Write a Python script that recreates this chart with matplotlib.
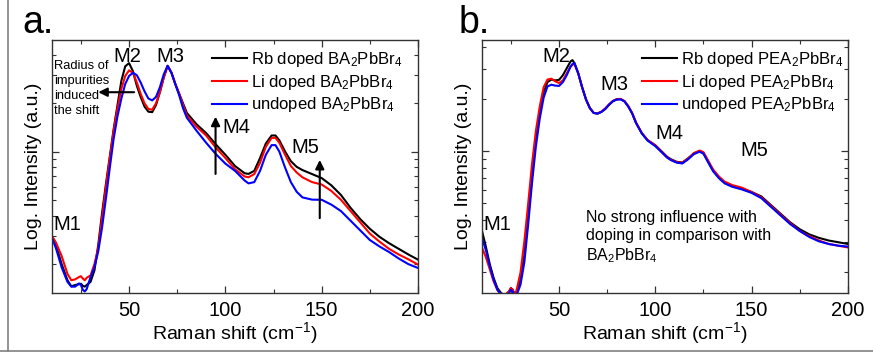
import numpy as np
import matplotlib
matplotlib.use("Agg")
import matplotlib.pyplot as plt
from matplotlib.ticker import MultipleLocator, NullFormatter, LogLocator
from matplotlib.lines import Line2D

plt.rcParams['font.family'] = ['Liberation Sans', 'DejaVu Sans']
plt.rcParams['mathtext.default'] = 'regular'

# ---- data (log10 of intensity, arbitrary units) ----
# panel a: BA2PbBr4
x_a = [10, 12, 15, 18, 20, 22, 24, 25, 26, 27,
       28, 30, 32, 34, 36, 38, 40, 42, 44, 46,
       48, 50, 52, 54, 56, 58, 60, 62, 64, 66,
       68, 70, 72, 74, 76, 78, 80, 85, 90, 95,
       100, 105, 110, 112, 115, 118, 121, 124, 126, 128,
       131, 134, 137, 140, 145, 150, 155, 160, 165, 170,
       175, 180, 185, 190, 195, 200]
rb_a = [-0.527, -0.58, -0.70, -0.80, -0.838, -0.83, -0.825, -0.822, -0.835, -0.84,
        -0.83, -0.81, -0.74, -0.58, -0.38, -0.20, -0.03, 0.14, 0.29, 0.44,
        0.53, 0.55, 0.50, 0.41, 0.34, 0.28, 0.248, 0.245, 0.29, 0.37,
        0.46, 0.533, 0.49, 0.42, 0.36, 0.30, 0.24, 0.17, 0.115, 0.045,
        -0.02, -0.09, -0.135, -0.139, -0.12, -0.04, 0.05, 0.10, 0.10, 0.07,
        0.00, -0.06, -0.095, -0.115, -0.14, -0.165, -0.21, -0.27, -0.35, -0.42,
        -0.48, -0.53, -0.57, -0.605, -0.64, -0.672]
li_a = [-0.527, -0.565, -0.65, -0.76, -0.80, -0.795, -0.78, -0.775, -0.79, -0.80,
        -0.785, -0.77, -0.70, -0.60, -0.41, -0.22, -0.04, 0.13, 0.27, 0.39,
        0.47, 0.505, 0.49, 0.43, 0.36, 0.30, 0.265, 0.26, 0.30, 0.37,
        0.46, 0.533, 0.49, 0.42, 0.36, 0.29, 0.225, 0.155, 0.10, 0.025,
        -0.04, -0.11, -0.155, -0.16, -0.14, -0.07, 0.03, 0.085, 0.085, 0.055,
        -0.02, -0.09, -0.13, -0.16, -0.19, -0.205, -0.245, -0.30, -0.37, -0.44,
        -0.51, -0.56, -0.605, -0.64, -0.67, -0.703]
un_a = [-0.537, -0.60, -0.72, -0.81, -0.84, -0.84, -0.82, -0.83, -0.86, -0.87,
        -0.855, -0.78, -0.72, -0.62, -0.47, -0.29, -0.10, 0.08, 0.22, 0.33,
        0.42, 0.47, 0.49, 0.475, 0.43, 0.375, 0.33, 0.318, 0.34, 0.40,
        0.48, 0.533, 0.49, 0.42, 0.35, 0.27, 0.21, 0.13, 0.055, -0.015,
        -0.075, -0.12, -0.18, -0.198, -0.19, -0.12, -0.02, 0.04, 0.04, 0.0,
        -0.10, -0.19, -0.25, -0.285, -0.299, -0.30, -0.33, -0.37, -0.43, -0.49,
        -0.55, -0.59, -0.625, -0.665, -0.70, -0.724]

# panel b: PEA2PbBr4
x_b = [10, 12, 14, 16, 18, 20, 22, 24, 25, 26,
       27, 28, 30, 32, 34, 36, 38, 40, 42, 44,
       46, 48, 50, 52, 54, 56, 57, 58, 60, 62,
       64, 66, 68, 70, 72, 74, 76, 78, 80, 82,
       84, 86, 88, 90, 93, 96, 100, 103, 106, 108,
       111, 114, 117, 120, 123, 125, 127, 130, 133, 136,
       140, 145, 150, 155, 160, 165, 170, 175, 180, 185,
       190, 195, 200]
rb_b = [-0.46, -0.55, -0.65, -0.73, -0.79, -0.82, -0.83, -0.81, -0.79, -0.80,
        -0.83, -0.82, -0.74, -0.60, -0.38, -0.14, 0.07, 0.22, 0.34, 0.40,
        0.415, 0.41, 0.413, 0.44, 0.48, 0.52, 0.527, 0.51, 0.45, 0.37,
        0.30, 0.25, 0.222, 0.218, 0.228, 0.245, 0.27, 0.29, 0.30, 0.302,
        0.29, 0.26, 0.22, 0.165, 0.105, 0.065, 0.035, 0.003, -0.03, -0.045,
        -0.06, -0.065, -0.04, -0.012, 0.002, -0.01, -0.05, -0.11, -0.15, -0.18,
        -0.20, -0.215, -0.235, -0.26, -0.31, -0.36, -0.41, -0.45, -0.48, -0.50,
        -0.515, -0.525, -0.535]
li_b = [-0.556, -0.61, -0.68, -0.75, -0.80, -0.83, -0.83, -0.81, -0.79, -0.80,
        -0.83, -0.80, -0.70, -0.52, -0.30, -0.07, 0.12, 0.26, 0.37, 0.415,
        0.42, 0.405, 0.395, 0.41, 0.45, 0.49, 0.50, 0.505, 0.45, 0.37,
        0.30, 0.25, 0.222, 0.22, 0.23, 0.248, 0.272, 0.292, 0.302, 0.303,
        0.29, 0.26, 0.22, 0.165, 0.105, 0.065, 0.035, 0.0, -0.033, -0.048,
        -0.062, -0.066, -0.042, -0.01, 0.005, -0.005, -0.045, -0.105, -0.145, -0.175,
        -0.195, -0.21, -0.235, -0.265, -0.315, -0.365, -0.415, -0.46, -0.49, -0.515,
        -0.535, -0.545, -0.555]
un_b = [-0.50, -0.57, -0.66, -0.74, -0.80, -0.83, -0.835, -0.82, -0.80, -0.81,
        -0.84, -0.83, -0.77, -0.64, -0.42, -0.18, 0.03, 0.19, 0.31, 0.375,
        0.385, 0.38, 0.378, 0.40, 0.44, 0.49, 0.505, 0.51, 0.45, 0.37,
        0.30, 0.25, 0.222, 0.218, 0.228, 0.245, 0.27, 0.29, 0.30, 0.30,
        0.288, 0.258, 0.218, 0.163, 0.103, 0.062, 0.03, -0.002, -0.035, -0.05,
        -0.065, -0.07, -0.046, -0.016, -0.002, -0.014, -0.055, -0.115, -0.155, -0.185,
        -0.205, -0.22, -0.24, -0.27, -0.32, -0.37, -0.42, -0.46, -0.495, -0.52,
        -0.535, -0.545, -0.55]

labels_a = ['Rb doped BA$_2$PbBr$_4$', 'Li doped BA$_2$PbBr$_4$', 'undoped BA$_2$PbBr$_4$']
labels_b = ['Rb doped PEA$_2$PbBr$_4$', 'Li doped PEA$_2$PbBr$_4$', 'undoped PEA$_2$PbBr$_4$']
colors = ['black', '#ff0000', '#0000ff']

fig = plt.figure(figsize=(8.73, 3.58), dpi=100)
ax_a = fig.add_axes([0.0596, 0.1816, 0.4192, 0.7067])
ax_b = fig.add_axes([0.5521, 0.1816, 0.4192, 0.7067])


def style_axis(ax, ylim):
    ax.set_yscale('log')
    ax.set_xlim(10, 200)
    ax.set_ylim(*ylim)
    ax.xaxis.set_major_locator(MultipleLocator(50))
    ax.xaxis.set_minor_locator(MultipleLocator(25))
    ax.yaxis.set_major_locator(LogLocator(base=10))
    ax.yaxis.set_minor_locator(LogLocator(base=10, subs=np.arange(2, 10)))
    ax.yaxis.set_major_formatter(NullFormatter())
    ax.yaxis.set_minor_formatter(NullFormatter())
    ax.tick_params(which='both', direction='in', top=True, right=True,
                   labelsize=14.5, pad=6, color='#333333')
    ax.tick_params(which='major', length=5, width=0.9)
    ax.tick_params(which='minor', length=3, width=0.8)
    for sp in ax.spines.values():
        sp.set_linewidth(1.0)
        sp.set_color('#333333')
    ax.set_xlabel('Raman shift (cm$^{-1}$)', fontsize=14, labelpad=0)
    ax.set_ylabel('Log. Intensity (a.u.)', fontsize=14, labelpad=1)


for ax, xs, series, labels in [(ax_a, x_a, [rb_a, li_a, un_a], labels_a),
                               (ax_b, x_b, [rb_b, li_b, un_b], labels_b)]:
    for vals, lab, c in zip(series, labels, colors):
        ax.plot(xs, 10 ** np.array(vals), color=c, lw=1.5, label=lab)

style_axis(ax_a, (0.132, 4.94))
style_axis(ax_b, (0.152, 4.4))

for ax in (ax_a, ax_b):
    ax.legend(loc='upper left', bbox_to_anchor=(0.437, 0.96), frameon=False,
              fontsize=12, handlelength=2.1, handletextpad=0.25,
              labelspacing=0.22, borderpad=0, borderaxespad=0)

# panel a annotations
mfs = 14.5
ax_a.text(10.5, 10 ** -0.487, 'M1', fontsize=mfs)
ax_a.text(42.1, 10 ** 0.555, 'M2', fontsize=mfs)
ax_a.text(64.4, 10 ** 0.555, 'M3', fontsize=mfs)
ax_a.text(98.4, 10 ** 0.114, 'M4', fontsize=mfs)
ax_a.text(134.3, 10 ** -0.01, 'M5', fontsize=mfs)
arrow = dict(arrowstyle='-|>', color='black', lw=1.5, mutation_scale=13, shrinkA=0, shrinkB=0)
ax_a.annotate('', xy=(94.9, 10 ** 0.217), xytext=(94.9, 10 ** -0.139), arrowprops=arrow)
ax_a.annotate('', xy=(149, 10 ** -0.052), xytext=(149, 10 ** -0.414), arrowprops=arrow)
ax_a.annotate('', xy=(34.0, 10 ** 0.369), xytext=(52.6, 10 ** 0.369), arrowprops=arrow)
ax_a.text(11.0, 10 ** 0.57, 'Radius of\nimpurities\ninduced\nthe shift', fontsize=9.3,
          va='top', linespacing=1.35)

# panel b annotations
ax_b.text(10.5, 10 ** -0.452, 'M1', fontsize=mfs)
ax_b.text(41.4, 10 ** 0.519, 'M2', fontsize=mfs)
ax_b.text(71.7, 10 ** 0.356, 'M3', fontsize=mfs)
ax_b.text(100.2, 10 ** 0.071, 'M4', fontsize=mfs)
ax_b.text(143.9, 10 ** -0.029, 'M5', fontsize=mfs)
ax_b.text(63.9, 10 ** -0.34, 'No strong influence with\ndoping in comparison with\nBA$_2$PbBr$_4$',
          fontsize=11.5, va='top', linespacing=1.25)

fig.text(22 / 873, 1 - 33 / 358, 'a.', fontsize=27, va='baseline')
fig.text(459 / 873, 1 - 33 / 358, 'b.', fontsize=27, va='baseline')

# grey panel frame lines
fig.add_artist(Line2D([8 / 873, 8 / 873], [1, 1 - 351 / 358], color='#808080', lw=1.2))
fig.add_artist(Line2D([0, 1], [1 - 351 / 358, 1 - 351 / 358], color='#808080', lw=1.2))

fig.savefig('out.png', dpi=100)
